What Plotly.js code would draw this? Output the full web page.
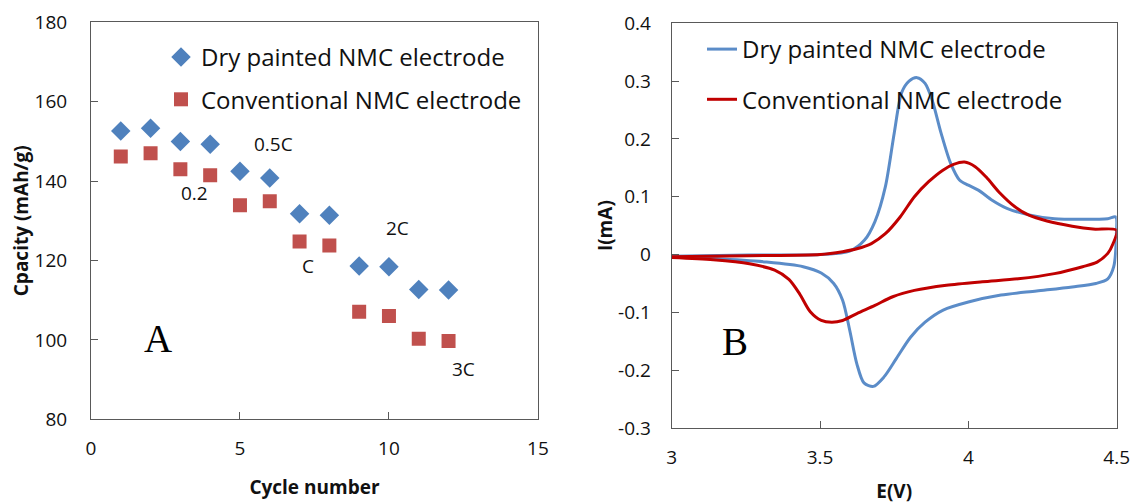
<!DOCTYPE html>
<html>
<head>
<meta charset="utf-8">
<script src="https://cdn.plot.ly/plotly-3.0.1.min.js"></script>
<style>html,body{margin:0;padding:0;background:#fff;}#chart{width:1133px;height:504px;}</style>
</head>
<body>
<div id="chart"></div>
<script>
// Panel A: rate capability
const cycles = [1,2,3,4,5,6,7,8,9,10,11,12];
const dryCapacity = [152.6,153.3,150.0,149.3,142.5,140.8,131.8,131.4,118.6,118.4,112.7,112.6];
const convCapacity = [146.2,147.0,143.0,141.5,133.9,134.9,124.8,123.8,107.1,106.0,100.3,99.7];
const rateLabels = ["0.2","0.5C","C","2C","3C"];
const rateLabelX = [3.49,6.12,7.30,10.3,12.5];
const rateLabelY = [137,149.3,118.6,128.2,92.8];

// Panel B: cyclic voltammetry
const dryE = [3.0,3.26,3.5,3.6,3.65,3.685,3.72,3.75,3.775,3.80,3.827,3.854,3.878,3.908,3.94,3.97,4.0,4.035,4.08,4.13,4.20,4.29,4.385,4.47,4.497,
  4.499,4.49,4.47,4.43,4.35,4.23,4.11,4.0,3.915,3.854,3.805,3.757,3.715,3.68,3.648,3.624,3.60,3.576,3.546,3.504,3.443,3.32,3.14,3.0];
const dryI = [-0.003,-0.001,0.0,0.006,0.025,0.057,0.117,0.21,0.28,0.30,0.306,0.296,0.267,0.21,0.158,0.129,0.12,0.111,0.094,0.08,0.069,0.062,0.061,0.062,0.065,
  0.036,-0.021,-0.042,-0.05,-0.056,-0.063,-0.07,-0.082,-0.096,-0.117,-0.143,-0.18,-0.212,-0.228,-0.222,-0.189,-0.131,-0.079,-0.05,-0.032,-0.021,-0.013,-0.007,-0.004];
const convE = [3.0,3.26,3.5,3.576,3.624,3.673,3.72,3.77,3.818,3.866,3.914,3.95,3.987,4.023,4.06,4.107,4.156,4.204,4.265,4.35,4.42,4.5,
  4.488,4.47,4.434,4.385,4.29,4.168,4.047,3.926,3.818,3.745,3.685,3.624,3.576,3.54,3.504,3.467,3.431,3.395,3.347,3.262,3.14,3.0];
const convI = [-0.004,-0.002,0.0,0.005,0.01,0.019,0.036,0.065,0.1,0.126,0.146,0.156,0.16,0.152,0.134,0.106,0.083,0.068,0.058,0.049,0.044,0.042,
  0.019,0.002,-0.013,-0.021,-0.033,-0.042,-0.047,-0.053,-0.062,-0.073,-0.088,-0.102,-0.114,-0.117,-0.114,-0.099,-0.068,-0.043,-0.027,-0.016,-0.009,-0.005];

const capTicks = [80,100,120,140,160,180];
const cycleTicks = [0,5,10,15];
const currentTicks = [-0.3,-0.2,-0.1,0,0.1,0.2,0.3,0.4];
const currentTickText = ["-0.3","-0.2","-0.1","0","0.1","0.2","0.3","0.4"];
const voltTicks = [3,3.5,4,4.5];
const voltTickText = ["3","3.5","4","4.5"];

const seriesNames = ["Dry painted NMC electrode","Conventional NMC electrode"];

const FONT = "Open Sans, Liberation Sans, sans-serif";
const tickFont = {family: FONT, size: 19, color: "#111"};
const titleFont = {family: FONT, size: 19, color: "#111", weight: "bold"};
const axisLine = "#595959";

const traces = [
  {x: cycles, y: dryCapacity, type: "scatter", mode: "markers", name: seriesNames[0],
   marker: {symbol: "diamond", size: 15, color: "#4F81BD"}, xaxis: "x", yaxis: "y", legend: "legend", legendgroup: "a1"},
  {x: cycles, y: convCapacity, type: "scatter", mode: "markers", name: seriesNames[1],
   marker: {symbol: "square", size: 14, color: "#C0504D"}, xaxis: "x", yaxis: "y", legend: "legend", legendgroup: "a2"},
  {x: dryE, y: dryI, type: "scatter", mode: "lines", name: seriesNames[0],
   line: {color: "#5B8CC8", width: 3, shape: "spline", smoothing: 0.8}, xaxis: "x2", yaxis: "y2", legend: "legend2", legendgroup: "b1"},
  {x: convE, y: convI, type: "scatter", mode: "lines", name: seriesNames[1],
   line: {color: "#C00000", width: 3, shape: "spline", smoothing: 0.8}, xaxis: "x2", yaxis: "y2", legend: "legend2", legendgroup: "b2"}
];

const annotations = [];
for (let i = 0; i < rateLabels.length; i++) {
  annotations.push({x: rateLabelX[i], y: rateLabelY[i], xref: "x", yref: "y", text: rateLabels[i],
    showarrow: false, font: {family: FONT, size: 19, color: "#111"}});
}
annotations.push({x: 2.25, y: 100.4, xref: "x", yref: "y", text: "A", showarrow: false,
  font: {family: "Liberation Serif, Times New Roman, serif", size: 39, color: "#000"}});
annotations.push({x: 3.212, y: -0.151, xref: "x2", yref: "y2", text: "B", showarrow: false,
  font: {family: "Liberation Serif, Times New Roman, serif", size: 39, color: "#000"}});

const layout = {
  width: 1133, height: 504,
  margin: {l: 0, r: 0, t: 0, b: 0},
  paper_bgcolor: "#fff", plot_bgcolor: "#fff",
  showlegend: true,
  font: {family: FONT, color: "#111"},
  xaxis: {domain: [0.0803, 0.4748], range: [0, 15], tickvals: cycleTicks, ticks: "inside", ticklen: 7,
    tickcolor: axisLine, showgrid: false, zeroline: false, showline: true, linecolor: axisLine, linewidth: 1,
    mirror: true, tickfont: tickFont, ticklabelstandoff: 12,
    title: {text: "Cycle number", font: titleFont, standoff: 20}, fixedrange: true},
  yaxis: {domain: [0.168, 0.9558], range: [80, 180], tickvals: capTicks, ticks: "inside", ticklen: 7,
    tickcolor: axisLine, showgrid: false, zeroline: false, showline: true, linecolor: axisLine, linewidth: 1,
    mirror: true, tickfont: tickFont, ticklabelstandoff: 19,
    title: {text: "Cpacity (mAh/g)", font: titleFont, standoff: 0}, fixedrange: true},
  xaxis2: {domain: [0.5929, 0.9856], range: [3, 4.5], tickvals: voltTicks, ticktext: voltTickText, ticks: "inside", ticklen: 7,
    tickcolor: axisLine, showgrid: false, zeroline: false, showline: true, linecolor: axisLine, linewidth: 1,
    mirror: true, tickfont: tickFont, ticklabelstandoff: 12, anchor: "y2",
    title: {text: "E(V)", font: titleFont, standoff: 16}, fixedrange: true},
  yaxis2: {domain: [0.1508, 0.9538], range: [-0.3, 0.4], tickvals: currentTicks, ticktext: currentTickText, ticks: "inside", ticklen: 7,
    tickcolor: axisLine, showgrid: false, zeroline: false, showline: true, linecolor: axisLine, linewidth: 1,
    mirror: true, tickfont: tickFont, ticklabelstandoff: 16, anchor: "x2",
    title: {text: "I(mA)", font: titleFont, standoff: 0}, fixedrange: true},
  legend: {x: 161/1133, y: (504-35)/504, xanchor: "left", yanchor: "top", bgcolor: "rgba(0,0,0,0)",
    font: {family: FONT, size: 24, color: "#111"}, traceorder: "grouped", tracegroupgap: 8},
  legend2: {x: 702/1133, y: (504-27)/504, xanchor: "left", yanchor: "top", bgcolor: "rgba(0,0,0,0)",
    font: {family: FONT, size: 24, color: "#111"}, traceorder: "grouped", tracegroupgap: 16},
  annotations: annotations
};

Plotly.newPlot("chart", traces, layout, {displayModeBar: false, staticPlot: true});
</script>
</body>
</html>
